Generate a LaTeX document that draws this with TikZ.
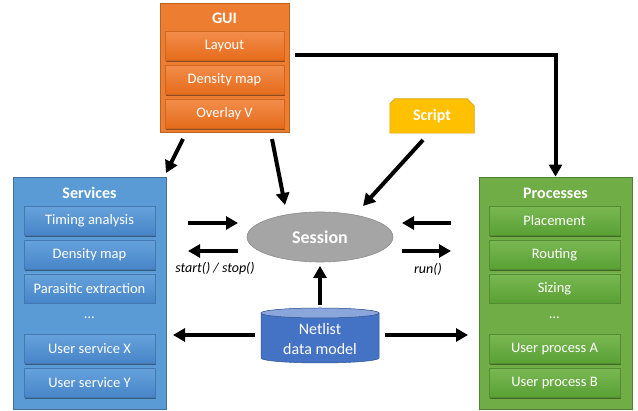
\documentclass[tikz,border=0pt]{standalone}
\usepackage{fontspec}
\setmainfont{Carlito}
\usetikzlibrary{arrows.meta,shadows,shapes.geometric,calc}
\definecolor{guiF}{HTML}{ED7D31}
\definecolor{guiB}{HTML}{C0621F}
\definecolor{guiTop}{HTML}{F38D4B}
\definecolor{guiBot}{HTML}{E56B1A}
\definecolor{servF}{HTML}{5B9BD5}
\definecolor{servB}{HTML}{41719C}
\definecolor{servTop}{HTML}{66A2DB}
\definecolor{servBot}{HTML}{4685C8}
\definecolor{procF}{HTML}{70AD47}
\definecolor{procB}{HTML}{507E32}
\definecolor{procTop}{HTML}{7AB852}
\definecolor{procBot}{HTML}{58A034}
\definecolor{sessF}{HTML}{A5A5A5}
\definecolor{sessB}{HTML}{8C8C8C}
\definecolor{netF}{HTML}{4472C4}
\definecolor{netTop}{HTML}{8AA6DA}
\definecolor{netB}{HTML}{2F528F}
\definecolor{scriptF}{HTML}{FFC000}
\definecolor{scriptB}{HTML}{D9A400}
\tikzset{
  outerbox/.style={rectangle, inner sep=0pt, line width=0.8pt},
  boxtitle/.style={text=white, font=\bfseries\fontsize{16}{18}\selectfont, inner sep=0pt},
  innerbox/.style={rectangle, inner sep=0pt, minimum height=29pt, text=white,
    font=\fontsize{14.5}{16}\selectfont, line width=0.4pt,
    drop shadow={shadow xshift=0.8pt, shadow yshift=-1.3pt, opacity=0.4, fill=black}},
  guiin/.style={innerbox, minimum width=119pt, top color=guiTop, bottom color=guiBot, draw=guiB!60!guiBot},
  servin/.style={innerbox, minimum width=131pt, top color=servTop, bottom color=servBot, draw=servB!60!servBot},
  procin/.style={innerbox, minimum width=131pt, top color=procTop, bottom color=procBot, draw=procB!60!procBot},
  dots/.style={text=white, font=\fontsize{14.5}{16}\selectfont, inner sep=0pt},
  arr/.style={line width=4pt, -{Triangle[length=12pt,width=13pt]}},
  lbl/.style={font=\itshape\fontsize{14}{16}\selectfont, inner sep=0pt}
}
\begin{document}
\begin{tikzpicture}[x=1pt,y=-1pt]
\useasboundingbox (0,0) rectangle (638,411);

% GUI
\node[outerbox, draw=guiB, fill=guiF, minimum width=129pt, minimum height=129pt] (gui) at (224.5,67.5) {};
\node[boxtitle] (guiT) at (224.5,18) {GUI};
\node[guiin] (layout) at (224.5,46) {Layout};
\node[guiin] (gdens) at (224.5,80) {Density map};
\node[guiin] (overlay) at (224.5,114) {Overlay V};

% Services
\node[outerbox, draw=servB, fill=servF, minimum width=153pt, minimum height=232pt] (serv) at (89.5,293) {};
\node[boxtitle] (servT) at (89.5,193) {Services};
\node[servin] (timing) at (89.5,221) {Timing analysis};
\node[servin] (sdens) at (89.5,255) {Density map};
\node[servin] (para) at (89.5,288.5) {Parasitic extraction};
\node[dots] (sdots) at (89.5,318) {…};
\node[servin] (usx) at (89.5,349) {User service X};
\node[servin] (usy) at (89.5,383) {User service Y};

% Processes
\node[outerbox, draw=procB, fill=procF, minimum width=153pt, minimum height=232pt] (proc) at (555.5,293) {};
\node[boxtitle] (procT) at (555.5,193) {Processes};
\node[procin] (place) at (554.5,221) {Placement};
\node[procin] (route) at (554.5,255) {Routing};
\node[procin] (sizing) at (554.5,288.5) {Sizing};
\node[dots] (pdots) at (554.5,318) {…};
\node[procin] (upa) at (554.5,349) {User process A};
\node[procin] (upb) at (554.5,383) {User process B};

% Script
\node[rectangle, inner sep=0pt, minimum width=84pt, minimum height=34pt] (script) at (432,116) {};
\filldraw[fill=scriptF, draw=scriptB, line width=0.6pt]
  (script.south west) -- ([yshift=-5pt]script.north west) -- ([xshift=5pt]script.north west)
  -- ([xshift=-7pt]script.north east) -- ([yshift=-7pt]script.north east)
  -- (script.south east) -- cycle;
\node[boxtitle] (scriptT) at (script.center) {Script};

% Session
\node[ellipse, minimum width=146pt, minimum height=50pt, inner sep=0pt, fill=sessF, draw=sessB, line width=0.6pt,
  text=white, font=\bfseries\fontsize{18}{20}\selectfont] (session) at (320,237) {Session};

% Netlist cylinder
\fill[netF] (261,313) -- (261,358) arc[start angle=180, end angle=0, x radius=59, y radius=5]
  -- (379,313) arc[start angle=0, end angle=-180, x radius=59, y radius=5] -- cycle;
\draw[netB, line width=0.5pt] (261,313) -- (261,358) arc[start angle=180, end angle=0, x radius=59, y radius=5] -- (379,313);
\filldraw[fill=netTop, draw=netB, line width=0.5pt] (320,313) ellipse[x radius=59, y radius=5];
\node[rectangle, inner sep=0pt, minimum width=118pt, minimum height=55pt, text=white, align=center,
  font=\fontsize{16}{20}\selectfont] (net) at (320,339) {Netlist\\data model};

% free arrow ends
\coordinate (ss1a) at (188,223); \coordinate (ss1b) at (238,223);
\coordinate (ss2a) at (238,251); \coordinate (ss2b) at (188,251);
\coordinate (rr1a) at (451,223); \coordinate (rr1b) at (402,223);
\coordinate (rr2a) at (402,251); \coordinate (rr2b) at (451,251);
\coordinate (nupa) at (320,305); \coordinate (nupb) at (320,266);
\coordinate (nla) at (255,335); \coordinate (nlb) at (173,335);
\coordinate (nra) at (385,335); \coordinate (nrb) at (468,335);
\coordinate (g1a) at (183,139); \coordinate (g1b) at (166,173);
\coordinate (g2a) at (272,139); \coordinate (g2b) at (285,205);
\coordinate (sca) at (423,140); \coordinate (scb) at (363,206);
\coordinate (gpa) at (295,55);

\draw[arr] (ss1a) -- (ss1b);
\draw[arr] (ss2a) -- (ss2b);
\draw[arr] (rr1a) -- (rr1b);
\draw[arr] (rr2a) -- (rr2b);
\draw[arr] (nupa) -- (nupb);
\draw[arr] (nla) -- (nlb);
\draw[arr] (nra) -- (nrb);
\draw[arr] (g1a) -- (g1b);
\draw[arr] (g2a) -- (g2b);
\draw[arr] (sca) -- (scb);
\draw[arr] (gpa) -- (gpa -| proc.north) -- (proc.north);

\node[lbl] (sslbl) at (215,269) {start() / stop()};
\node[lbl] (runlbl) at (428,269) {run()};
\end{tikzpicture}
\end{document}
